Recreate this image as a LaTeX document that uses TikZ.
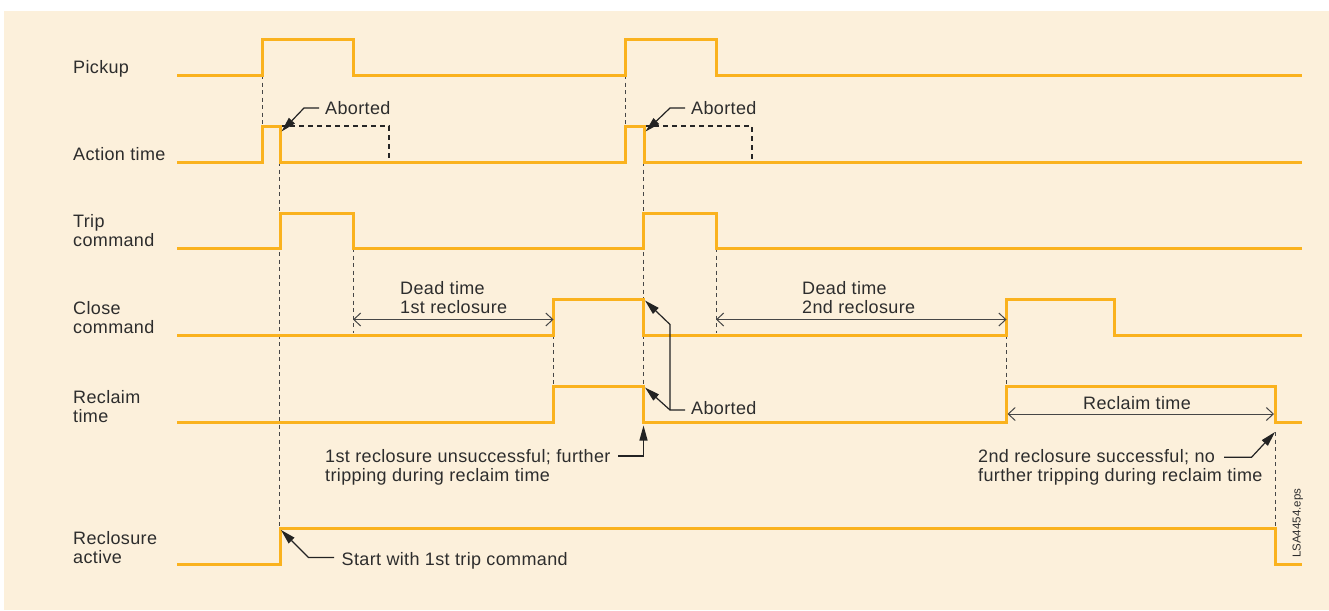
\documentclass[tikz,border=0pt]{standalone}
\usepackage{fontspec}
\usetikzlibrary{arrows.meta}
\newfontfamily\lbfont[LetterSpace=2.0]{Liberation Sans}
\newfontfamily\smfont{Liberation Sans}
\definecolor{bgcream}{RGB}{252,240,219}
\definecolor{sigorange}{RGB}{250,178,30}
\definecolor{txtc}{RGB}{45,45,45}
\definecolor{leadc}{RGB}{35,35,35}
\definecolor{dimc}{RGB}{70,70,70}
\tikzset{
  lbl/.style={anchor=base west, inner sep=0pt, font=\lbfont\fontsize{18}{19}\selectfont, text=txtc},
  sig/.style={draw=sigorange, line width=3pt, line join=miter},
  guide/.style={draw=dimc, line width=0.9pt, dash pattern=on 4pt off 3.5pt},
  ghost/.style={draw=black!85, line width=2pt, dash pattern=on 5pt off 4pt},
  lead/.style={draw=leadc, line width=1.2pt, -{Triangle[length=15pt,width=8pt]}},
  dim/.style={draw=dimc, line width=1pt, {Straight Barb[length=7pt,width=13pt]}-{Straight Barb[length=7pt,width=13pt]}}
}
\begin{document}
\begin{tikzpicture}[x=1pt,y=-1pt]
\useasboundingbox (0,0) rectangle (1329,610);
\fill[white] (0,0) rectangle (1329,610);
\fill[bgcream] (4,11) rectangle (1329,610);

% guide (dashed) lines
\draw[guide] (262.5,75) -- (262.5,126);
\draw[guide] (279.5,162) -- (279.5,528);
\draw[guide] (353,248) -- (353,333);
\draw[guide] (553.5,335) -- (553.5,386);
\draw[guide] (625,75) -- (625,126);
\draw[guide] (643.5,162) -- (643.5,386);
\draw[guide] (716,248) -- (716,333);
\draw[guide] (1006.5,335) -- (1006.5,386);
\draw[guide] (1275,432) -- (1275,528);

% aborted action-time continuations
\draw[ghost] (281,126) -- (389,126) -- (389,161);
\draw[ghost] (645,126) -- (752,126) -- (752,161);

% signals
\draw[sig] (177,75) -- (262.5,75) -- (262.5,40) -- (353,40) -- (353,75) -- (625,75) -- (625,40) -- (716,40) -- (716,75) -- (1302,75);
\draw[sig] (177,162) -- (262.5,162) -- (262.5,126) -- (280,126) -- (280,162) -- (625,162) -- (625,126) -- (644,126) -- (644,162) -- (1302,162);
\draw[sig] (177,248) -- (280,248) -- (280,213) -- (353,213) -- (353,248) -- (643.5,248) -- (643.5,213) -- (716,213) -- (716,248) -- (1302,248);
\draw[sig] (177,335) -- (553.5,335) -- (553.5,299) -- (643.5,299) -- (643.5,335) -- (1006.5,335) -- (1006.5,299) -- (1114,299) -- (1114,335) -- (1302,335);
\draw[sig] (177,422) -- (553.5,422) -- (553.5,386) -- (643.5,386) -- (643.5,422) -- (1006.5,422) -- (1006.5,386) -- (1275,386) -- (1275,422) -- (1302,422);
\draw[sig] (177,564) -- (280,564) -- (280,528) -- (1275,528) -- (1275,564) -- (1302,564);

% signal labels
\node[lbl] (lpick) at (73,74) {Pickup};
\node[lbl] (lact) at (73,160) {Action time};
\node[lbl] (ltrip1) at (73,227.5) {Trip};
\node[lbl] (ltrip2) at (73,246.5) {command};
\node[lbl] (lclose1) at (73,314) {Close};
\node[lbl] (lclose2) at (73,333) {command};
\node[lbl] (lrecl1) at (73,403.5) {Reclaim};
\node[lbl] (lrecl2) at (73,422.5) {time};
\node[lbl] (lact1) at (73,544) {Reclosure};
\node[lbl] (lact2) at (73,563) {active};

% dimension arrows
\coordinate (d1a) at (353,319.5);
\coordinate (d1b) at (553.5,319.5);
\draw[dim] (d1a) -- (d1b);
\node[lbl] (dt1a) at (400,294.3) {Dead time};
\node[lbl] (dt1b) at (400,313.3) {1st reclosure};
\coordinate (d2a) at (716,319.5);
\coordinate (d2b) at (1006.5,319.5);
\draw[dim] (d2a) -- (d2b);
\node[lbl] (dt2a) at (802,294.3) {Dead time};
\node[lbl] (dt2b) at (802,313.3) {2nd reclosure};
\coordinate (d3a) at (1007.5,414);
\coordinate (d3b) at (1274,414);
\draw[dim] (d3a) -- (d3b);
\node[lbl] (rt) at (1083,409.3) {Reclaim time};

% aborted labels
\node[lbl] (ab1) at (325,114.3) {Aborted};
\coordinate (ab1s) at (319,108);
\coordinate (ab1k) at (304,108);
\coordinate (ab1t) at (281.5,131.5);
\draw[lead] (ab1s) -- (ab1k) -- (ab1t);

\node[lbl] (ab2) at (691,114.3) {Aborted};
\coordinate (ab2s) at (685,108);
\coordinate (ab2k) at (670,108);
\coordinate (ab2t) at (645.5,131.5);
\draw[lead] (ab2s) -- (ab2k) -- (ab2t);

\node[lbl] (ab3) at (691,414.5) {Aborted};
\coordinate (ab3s) at (685,410);
\coordinate (ab3k) at (670,410);
\coordinate (ab3u) at (670,324.5);
\coordinate (ab3t1) at (645,300.5);
\coordinate (ab3t2) at (645,387.5);
\draw[lead] (ab3s) -- (ab3k) -- (ab3t2);
\draw[lead] (ab3k) -- (ab3u) -- (ab3t1);

% 1st reclosure unsuccessful
\node[lbl] (u1) at (325,462.7) {1st reclosure unsuccessful; further};
\node[lbl] (u2) at (325,481.7) {tripping during reclaim time};
\coordinate (u1s) at (618,456);
\coordinate (u1k) at (643.5,456);
\coordinate (u1t) at (643.5,425.5);
\draw[lead] (u1s) -- (u1k) -- (u1t);

% 2nd reclosure successful
\node[lbl] (s1) at (978,462.3) {2nd reclosure successful; no};
\node[lbl] (s2) at (978,481.3) {further tripping during reclaim time};
\coordinate (s1s) at (1224,457.3);
\coordinate (s1k) at (1251.5,457.3);
\coordinate (s1t) at (1275,432);
\draw[lead] (s1s) -- (s1k) -- (s1t);

% start with 1st trip command
\node[lbl] (st) at (341.5,565) {Start with 1st trip command};
\coordinate (sts) at (334,557.5);
\coordinate (stk) at (308.5,557.5);
\coordinate (stt) at (281,530);
\draw[lead] (sts) -- (stk) -- (stt);

% file tag
\node[anchor=base west, inner sep=0pt, rotate=90, font=\smfont\fontsize{11.5}{12}\selectfont, text=txtc] (tag) at (1300.5,558) {LSA4454.eps};
\end{tikzpicture}
\end{document}
